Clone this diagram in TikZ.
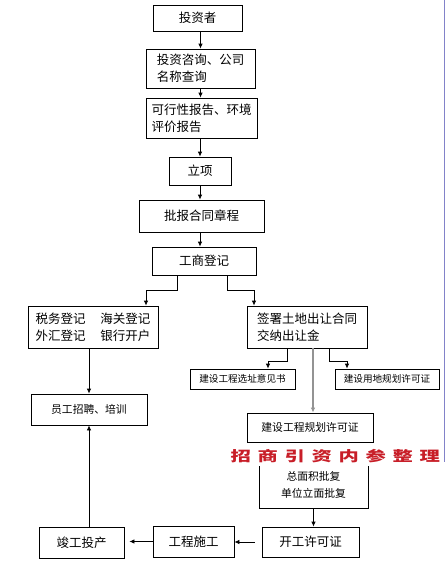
\documentclass[tikz,border=0pt]{standalone}
\usepackage{fontspec}
\newfontfamily\cjk{Noto Sans CJK SC}
\usetikzlibrary{arrows.meta}
\definecolor{wmred}{RGB}{200,30,40}
\tikzset{
  box/.style={draw, line width=0.8pt, inner sep=0pt, align=center,
    font={\cjk\fontsize{12.5}{17}\selectfont}},
  mbox/.style={box, font={\cjk\fontsize{10.8}{17}\selectfont}},
  sbox/.style={box, font={\cjk\fontsize{9.6}{12}\selectfont}},
  arr/.style={line width=0.8pt, -{Latex[length=5pt,width=4.5pt]}},
  garr/.style={arr, draw=gray!85, line width=1.3pt},
  wm/.style={font={\cjk\bfseries\fontsize{14}{14}\selectfont}, text=wmred,
    fill=white, inner xsep=1pt, inner ysep=3.5pt, xscale=1.45, transform shape}
}
\begin{document}
\begin{tikzpicture}[x=1pt,y=-1pt]
\useasboundingbox[fill=white] (0,0) rectangle (446,571);
\draw[gray!60!blue!70, line width=0.9pt] (444.5,0) -- (444.5,462);

\node[box, minimum width=89pt, minimum height=26pt] (n1) at (197.5,18) {投资者};
\node[box, minimum width=109pt, minimum height=39pt, align=left] (n2) at (200.5,68.5) {投资咨询、公司\\名称查询};
\node[box, minimum width=111pt, minimum height=40pt, align=left] (n3) at (201.5,118) {可行性报告、环境\\评价报告};
\node[box, minimum width=62pt, minimum height=28pt] (n4) at (200,171) {立项};
\node[box, minimum width=125pt, minimum height=32pt] (n5) at (201.5,216) {批报合同章程};
\node[box, minimum width=104pt, minimum height=28pt] (n6) at (204,261) {工商登记};
\node[box, minimum width=130pt, minimum height=42pt, align=left] (n7) at (93,327) {税务登记\hspace{1.2em}海关登记\\外汇登记\hspace{1.2em}银行开户};
\node[box, minimum width=120pt, minimum height=42pt, align=left] (n8) at (307,327) {签署土地出让合同\\交纳出让金\hspace{3em}\mbox{}};
\node[sbox, minimum width=105pt, minimum height=20pt] (n9) at (242.5,379) {建设工程选址意见书};
\node[sbox, minimum width=104pt, minimum height=20pt] (n10) at (387,379) {建设用地规划许可证};
\node[mbox, minimum width=126pt, minimum height=29pt] (n11) at (310,427.5) {建设工程规划许可证};
\node[mbox, minimum width=109pt, minimum height=56pt] (n12) at (313.5,480) {\\[2pt]总面积批复\\单位立面批复};
\node[box, minimum width=97pt, minimum height=30pt] (n13) at (310.5,542) {开工许可证};
\node[box, minimum width=81pt, minimum height=31pt] (n14) at (193.5,541.5) {工程施工};
\node[box, minimum width=85pt, minimum height=31pt] (n15) at (81.5,542.5) {竣工投产};
\node[mbox, minimum width=116pt, minimum height=31pt] (n16) at (89,409.5) {员工招聘、培训};

\node[wm, anchor=west] (wm) at (229,456) {招\hspace{4.6pt}商\hspace{4.6pt}引\hspace{4.6pt}资\hspace{4.6pt}内\hspace{4.6pt}参\hspace{4.6pt}整\hspace{4.6pt}理};

\draw[arr] (n1.south -| n2.north) -- (n2.north);
\draw[arr] (n2.south) -- (n2.south |- n3.north);
\draw[arr] (n4.north |- n3.south) -- (n4.north);
\draw[arr] (n4.south) -- (n4.south |- n5.north);
\draw[arr] (n4.south |- n5.south) -- (n4.south |- n6.north);
\draw[arr] ([xshift=-27pt]n6.south) -- ++(0,15) -| ([xshift=53pt]n7.north);
\draw[arr] ([xshift=23pt]n6.south) -- ++(0,15) -| ([xshift=-53pt]n8.north);
\draw[arr] ([xshift=-20pt]n8.south) -- ++(0,13) -| ([xshift=25.5pt]n9.north);
\draw[arr] ([xshift=22pt]n8.south) -- ++(0,13) -| ([xshift=-40pt]n10.north);
\draw[garr] ([xshift=6pt]n8.south) -- ([xshift=6pt]n8.south |- n11.north);
\draw[arr] (n12.south) -- (n12.south |- n13.north);
\draw[arr, shorten <=7pt] (n13.west) -- (n13.west -| n14.east);
\draw[arr, shorten >=5pt] (n14.west) -- (n14.west -| n15.east);
\draw[arr] (n16.south |- n15.north) -- (n16.south);
\draw[arr] (n16.north |- n7.south) -- (n16.north);
\end{tikzpicture}
\end{document}
